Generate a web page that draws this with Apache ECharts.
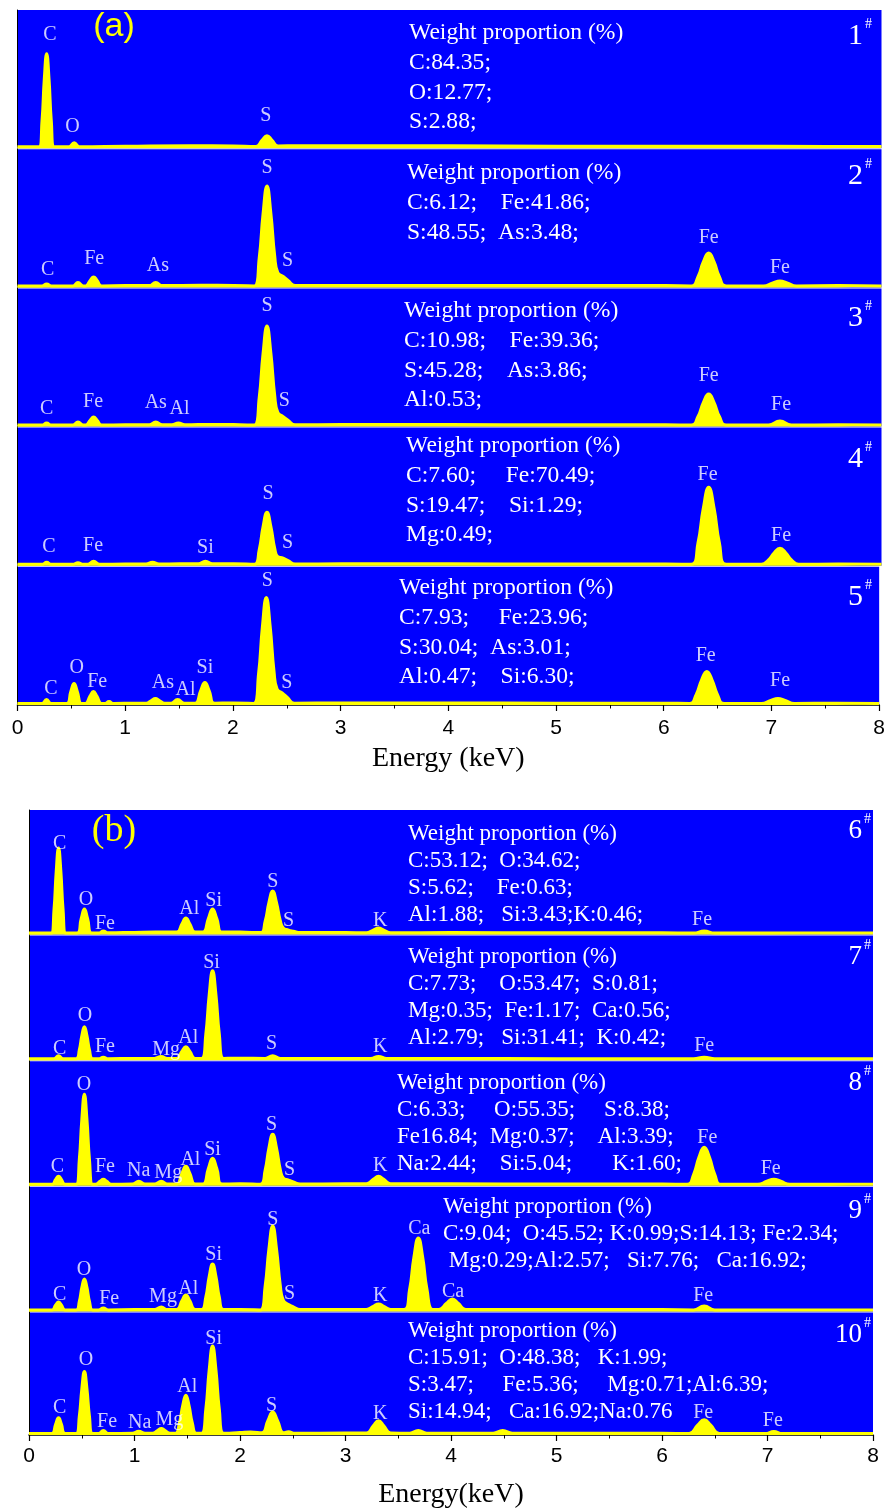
<!DOCTYPE html>
<html><head><meta charset="utf-8">
<script src="https://cdn.jsdelivr.net/npm/echarts@6/dist/echarts.min.js"></script>
<style>html,body{margin:0;padding:0;background:#fff}#c{width:888px;height:1510px}</style>
</head><body><div id="c"></div>
<script>
// ---------- data: EDS spectra, [energy keV, intensity a.u.] ----------
const energyTicks = [0,1,2,3,4,5,6,7,8];
const spec1 = [[0,1.5],[0.12,1.5],[0.2,1.5],[0.227,27.4],[0.248,69],[0.27,94.5],[0.292,69],[0.313,27.4],[0.34,1.5],[0.477,1.5],[0.525,5.5],[0.573,1.5],[1.0,2],[1.6,2.5],[2.0,2.3],[2.207,1.8],[2.265,8.2],[2.31,12.5],[2.355,8.2],[2.413,2.2],[2.6,2.5],[3.5,2.5],[4.5,2.2],[5.5,2],[6.5,2],[7.5,1.8],[8,1.8]];
const spec2 = [[0,1.5],[0.15,1.5],[0.227,1.5],[0.27,3.5],[0.313,1.5],[0.512,1.5],[0.56,5],[0.608,1.5],[0.631,1.5],[0.673,7],[0.705,10.5],[0.737,7],[0.779,1.5],[1.0,1.8],[1.22,1.8],[1.28,5],[1.34,1.8],[1.7,2.2],[2.0,2],[2.193,1.5],[2.238,29.3],[2.274,74.1],[2.31,101.5],[2.346,74.1],[2.382,31],[2.41,14.9],[2.46,10.9],[2.505,6.9],[2.57,1.8],[3.0,2],[4.0,2],[5.0,1.8],[6.0,1.8],[6.239,1.5],[6.301,10.7],[6.35,25.5],[6.4,34.5],[6.45,25.5],[6.499,10.7],[6.561,1.5],[6.908,1.5],[6.994,4.5],[7.06,6.5],[7.126,4.5],[7.212,1.5],[7.6,1.8],[8,1.5]];
const spec3 = [[0,1.5],[0.15,1.5],[0.227,1.5],[0.27,3.5],[0.313,1.5],[0.512,1.5],[0.56,4.5],[0.608,1.5],[0.631,1.5],[0.673,6.4],[0.705,9.5],[0.737,6.4],[0.779,1.5],[1.0,1.8],[1.22,1.8],[1.28,4.5],[1.34,1.8],[1.43,1.8],[1.49,3.5],[1.55,1.8],[1.8,2.2],[2.0,2],[2.193,1.5],[2.238,29],[2.274,73.4],[2.31,100.5],[2.346,73.4],[2.382,30.8],[2.41,14.2],[2.46,9.9],[2.505,6.4],[2.57,1.8],[3.0,2],[4.0,2],[5.0,1.8],[6.0,1.8],[6.239,1.5],[6.301,10.1],[6.35,24],[6.4,32.5],[6.45,24],[6.499,10.1],[6.561,1.5],[6.955,1.5],[7.06,5.5],[7.165,1.5],[7.6,1.8],[8,1.5]];
const spec4 = [[0,1.5],[0.15,1.5],[0.227,1.5],[0.27,3.5],[0.313,1.5],[0.512,1.5],[0.56,3],[0.608,1.5],[0.65,1.5],[0.705,4.5],[0.76,1.5],[1.0,1.8],[1.19,1.8],[1.25,3.5],[1.31,1.8],[1.5,2],[1.675,2],[1.74,4.5],[1.805,2],[2.0,2],[2.193,1.5],[2.238,16],[2.274,39.3],[2.31,53.5],[2.346,39.3],[2.382,17.3],[2.41,9.1],[2.46,7.7],[2.505,5.1],[2.57,1.8],[3.0,2],[4.0,2],[5.0,1.8],[6.0,1.8],[6.239,1.5],[6.301,22.9],[6.35,57.4],[6.4,78.5],[6.45,57.4],[6.499,22.9],[6.561,1.5],[6.888,1.5],[6.954,5.9],[7.007,13.1],[7.06,17.5],[7.113,13.1],[7.166,5.9],[7.232,1.5],[7.6,1.8],[8,1.5]];
const spec5 = [[0,1.5],[0.15,1.5],[0.227,1.5],[0.27,5.5],[0.313,1.5],[0.456,1.5],[0.495,13.6],[0.525,21.5],[0.555,13.6],[0.594,1.5],[0.631,1.5],[0.673,8.8],[0.705,13.5],[0.737,8.8],[0.779,1.5],[0.81,1.5],[0.85,3.5],[0.89,1.5],[1.1,1.8],[1.195,1.8],[1.243,4.5],[1.28,6.5],[1.317,4.5],[1.365,1.8],[1.427,1.8],[1.487,5.5],[1.547,1.8],[1.648,1.8],[1.70,14.2],[1.74,22.5],[1.78,14.2],[1.832,1.8],[2.0,2],[2.193,1.5],[2.238,31],[2.274,78.5],[2.31,107.5],[2.346,78.5],[2.382,33.2],[2.41,15.9],[2.46,11.9],[2.505,7.6],[2.57,1.8],[3.0,2],[4.0,2],[5.0,1.8],[6.0,1.8],[6.239,1.5],[6.301,10.4],[6.35,24.7],[6.4,33.5],[6.45,24.7],[6.499,10.4],[6.561,1.5],[6.908,1.5],[6.994,4.5],[7.06,6.5],[7.126,4.5],[7.212,1.5],[7.6,1.8],[8,1.5]];
const spec6 = [[0,1.5],[0.15,1.5],[0.21,1.5],[0.237,25.1],[0.258,63.2],[0.28,86.5],[0.302,63.2],[0.323,25.1],[0.35,1.5],[0.456,1.5],[0.495,16.1],[0.525,25.5],[0.555,16.1],[0.594,1.5],[0.66,1.5],[0.705,3.5],[0.75,1.8],[1.0,2.2],[1.2,2.5],[1.40,2.5],[1.449,10.6],[1.487,16.5],[1.525,10.6],[1.574,2.5],[1.648,2.5],[1.70,16.1],[1.74,25.5],[1.78,16.1],[1.832,2.5],[2.0,2.5],[2.193,2],[2.238,13.2],[2.274,32],[2.31,43.5],[2.346,32],[2.382,13.9],[2.41,6.7],[2.46,4.5],[2.505,3.3],[2.57,2],[3.0,2],[3.198,1.8],[3.263,4.5],[3.313,6.5],[3.363,4.5],[3.428,1.8],[4.0,2],[5.0,1.8],[6.0,1.8],[6.3,1.5],[6.4,3.5],[6.5,1.5],[7.0,1.5],[8,1.5]];
const spec7 = [[0,1.5],[0.15,1.5],[0.237,1.5],[0.28,4.5],[0.323,1.5],[0.447,1.5],[0.477,10.4],[0.501,24.7],[0.525,33.5],[0.549,24.7],[0.573,10.4],[0.603,1.5],[0.66,1.5],[0.705,3],[0.75,1.5],[1.0,1.8],[1.19,1.8],[1.254,3.8],[1.31,1.8],[1.40,1.8],[1.449,8.8],[1.487,13.5],[1.525,8.8],[1.574,1.8],[1.636,1.8],[1.676,26],[1.708,65.4],[1.74,89.5],[1.772,65.4],[1.804,26],[1.844,1.8],[2.0,2],[2.24,1.8],[2.31,4.5],[2.38,1.8],[3.0,1.8],[3.24,1.8],[3.313,3.8],[3.39,1.8],[4.0,1.8],[5.0,1.5],[6.3,1.5],[6.4,3],[6.5,1.5],[8,1.5]];
const spec8 = [[0,1.5],[0.15,1.5],[0.218,1.5],[0.253,6.4],[0.28,9.5],[0.307,6.4],[0.342,1.5],[0.447,1.5],[0.477,26.5],[0.501,66.8],[0.525,91.5],[0.549,66.8],[0.573,26.5],[0.603,1.5],[0.631,1.5],[0.673,4.5],[0.705,6.5],[0.737,4.5],[0.779,1.5],[0.98,1.8],[1.041,4.5],[1.10,1.8],[1.19,1.8],[1.254,4.5],[1.31,1.8],[1.40,1.8],[1.449,12.4],[1.487,19.5],[1.525,12.4],[1.574,1.8],[1.648,1.8],[1.70,17.3],[1.74,27.5],[1.78,17.3],[1.832,1.8],[2.0,2],[2.193,1.5],[2.238,15.4],[2.274,37.8],[2.31,51.5],[2.346,37.8],[2.382,16.3],[2.41,8],[2.46,5.7],[2.505,3.9],[2.57,1.8],[3.0,2],[3.198,2],[3.263,6.4],[3.313,9.5],[3.363,6.4],[3.428,2],[4.0,2],[5.0,1.8],[6.0,1.8],[6.239,1.5],[6.301,11.8],[6.35,28.4],[6.4,38.5],[6.45,28.4],[6.499,11.8],[6.561,1.5],[6.908,1.5],[6.994,4.5],[7.06,6.5],[7.126,4.5],[7.212,1.5],[7.6,1.5],[8,1.5]];
const spec9 = [[0,1.5],[0.15,1.5],[0.218,1.5],[0.253,6.4],[0.28,9.5],[0.307,6.4],[0.342,1.5],[0.447,1.5],[0.477,10.1],[0.501,24],[0.525,32.5],[0.549,24],[0.573,10.1],[0.603,1.5],[0.66,1.5],[0.705,3.5],[0.75,1.5],[1.0,1.8],[1.19,1.8],[1.254,4.5],[1.31,1.8],[1.40,1.8],[1.449,10.6],[1.487,16.5],[1.525,10.6],[1.574,1.8],[1.636,1.8],[1.676,14.3],[1.708,34.9],[1.74,47.5],[1.772,34.9],[1.804,14.3],[1.844,1.8],[2.0,2],[2.193,1.5],[2.238,24.9],[2.274,62.5],[2.31,85.5],[2.346,62.5],[2.382,26],[2.41,11.3],[2.46,6.8],[2.505,4.5],[2.57,1.8],[3.0,2],[3.198,2],[3.263,5.1],[3.313,7.5],[3.363,5.1],[3.428,2],[3.555,2],[3.607,21.5],[3.648,53.8],[3.69,73.5],[3.732,53.8],[3.773,21.5],[3.825,2],[3.886,2],[3.958,8.2],[4.013,12.5],[4.068,8.2],[4.14,2],[5.0,1.8],[6.0,1.8],[6.3,1.5],[6.4,5.5],[6.5,1.5],[8,1.5]];
const spec10 = [[0,1.5],[0.15,1.5],[0.218,1.5],[0.253,11.2],[0.28,17.5],[0.307,11.2],[0.342,1.5],[0.447,1.5],[0.477,19],[0.501,47.2],[0.525,64.5],[0.549,47.2],[0.573,19],[0.603,1.5],[0.66,1.5],[0.705,4.5],[0.75,1.5],[0.98,1.8],[1.041,3.8],[1.10,1.8],[1.171,1.8],[1.218,4.5],[1.254,6.5],[1.29,4.5],[1.337,1.8],[1.388,1.8],[1.426,12.3],[1.457,29.8],[1.487,40.5],[1.517,29.8],[1.548,12.3],[1.586,1.8],[1.636,1.8],[1.676,26.2],[1.708,66.1],[1.74,90.5],[1.772,66.1],[1.804,26.2],[1.844,1.8],[2.0,2.5],[2.1,3],[2.206,2.2],[2.265,14.9],[2.31,23.5],[2.355,14.9],[2.414,2.2],[2.46,3.2],[2.52,1.8],[3.0,2],[3.198,2],[3.263,9.4],[3.313,14.5],[3.363,9.4],[3.428,2],[3.61,1.8],[3.69,4.5],[3.77,1.8],[4.40,1.8],[4.49,4.5],[4.58,1.8],[5.0,1.8],[6.0,1.8],[6.257,1.5],[6.338,10],[6.4,15.5],[6.462,10],[6.543,1.5],[6.98,1.5],[7.06,3.5],[7.14,1.5],[8,1.5]];

// peak labels: [energy, intensity, element]
const labels1 = [[0.30,113,'C'],[0.51,21,'O'],[2.30,32,'S']];
const labels2 = [[0.28,18,'C'],[0.71,29,'Fe'],[1.30,22,'As'],[2.31,120,'S'],[2.50,27,'S'],[6.40,50,'Fe'],[7.06,20,'Fe']];
const labels3 = [[0.27,18,'C'],[0.70,25,'Fe'],[1.28,24,'As'],[1.50,18,'Al'],[2.31,121,'S'],[2.47,26,'S'],[6.40,51,'Fe'],[7.07,22,'Fe']];
const labels4 = [[0.29,19,'C'],[0.70,20,'Fe'],[1.74,18,'Si'],[2.32,72,'S'],[2.50,23,'S'],[6.39,91,'Fe'],[7.07,30,'Fe']];
const labels5 = [[0.31,16,'C'],[0.55,37,'O'],[0.74,23,'Fe'],[1.35,22,'As'],[1.56,15,'Al'],[1.74,37,'Si'],[2.32,124,'S'],[2.50,22,'S'],[6.39,49,'Fe'],[7.08,24,'Fe']];
const labels6 = [[0.29,91,'C'],[0.54,35,'O'],[0.72,11,'Fe'],[1.52,26,'Al'],[1.75,34,'Si'],[2.31,53,'S'],[2.46,14,'S'],[3.33,14,'K'],[6.38,15,'Fe']];
const labels7 = [[0.29,11,'C'],[0.53,44,'O'],[0.72,13,'Fe'],[1.30,10,'Mg'],[1.51,22,'Al'],[1.73,97,'Si'],[2.30,16,'S'],[3.33,13,'K'],[6.40,14,'Fe']];
const labels8 = [[0.27,19,'C'],[0.52,101,'O'],[0.72,19,'Fe'],[1.04,15,'Na'],[1.32,13,'Mg'],[1.53,26,'Al'],[1.74,36,'Si'],[2.30,61,'S'],[2.47,16,'S'],[3.33,20,'K'],[6.43,48,'Fe'],[7.03,17,'Fe']];
const labels9 = [[0.29,17,'C'],[0.52,42,'O'],[0.76,13,'Fe'],[1.27,15,'Mg'],[1.51,23,'Al'],[1.75,57,'Si'],[2.31,92,'S'],[2.47,18,'S'],[3.33,16,'K'],[3.70,83,'Ca'],[4.02,20,'Ca'],[6.39,16,'Fe']];
const labels10 = [[0.29,28,'C'],[0.54,76,'O'],[0.74,13,'Fe'],[1.05,12,'Na'],[1.33,15,'Mg'],[1.50,49,'Al'],[1.75,98,'Si'],[2.30,30,'S'],[3.33,22,'K'],[6.39,23,'Fe'],[7.05,14,'Fe']];

// composition texts
const text1 = ['Weight proportion (%)','C:84.35;','O:12.77;','S:2.88;'];
const text2 = ['Weight proportion (%)','C:6.12;    Fe:41.86;','S:48.55;  As:3.48;'];
const text3 = ['Weight proportion (%)','C:10.98;    Fe:39.36;','S:45.28;    As:3.86;','Al:0.53;'];
const text4 = ['Weight proportion (%)','C:7.60;     Fe:70.49;','S:19.47;    Si:1.29;','Mg:0.49;'];
const text5 = ['Weight proportion (%)','C:7.93;     Fe:23.96;','S:30.04;  As:3.01;','Al:0.47;    Si:6.30;'];
const text6 = ['Weight proportion (%)','C:53.12;  O:34.62;','S:5.62;    Fe:0.63;','Al:1.88;   Si:3.43;K:0.46;'];
const text7 = ['Weight proportion (%)','C:7.73;    O:53.47;  S:0.81;','Mg:0.35;  Fe:1.17;  Ca:0.56;','Al:2.79;   Si:31.41;  K:0.42;'];
const text8 = ['Weight proportion (%)','C:6.33;     O:55.35;     S:8.38;','Fe16.84;  Mg:0.37;    Al:3.39;','Na:2.44;    Si:5.04;       K:1.60;'];
const text9 = ['Weight proportion (%)','C:9.04;  O:45.52; K:0.99;S:14.13; Fe:2.34;',' Mg:0.29;Al:2.57;   Si:7.76;   Ca:16.92;'];
const text10 = ['Weight proportion (%)','C:15.91;  O:48.38;   K:1.99;','S:3.47;     Fe:5.36;     Mg:0.71;Al:6.39;','Si:14.94;   Ca:16.92;Na:0.76'];
const sampleIds = ['1','2','3','4','5','6','7','8','9','10'];
const panelTags = ['(a)','(b)'];
const axisTitles = ['Energy (keV)','Energy(keV)'];

// ---------- layout ----------
const spectra = [spec1,spec2,spec3,spec4,spec5,spec6,spec7,spec8,spec9,spec10];
const peakLabels = [labels1,labels2,labels3,labels4,labels5,labels6,labels7,labels8,labels9,labels10];
const texts = [text1,text2,text3,text4,text5,text6,text7,text8,text9,text10];
const GA = {left:17.5, width:864, top:10, step:139.2, h:138.2, font:23.6, lh:29.7, numFont:30, tickMargin:13, nameGap:40};
const GB = {left:29, width:844, top:810, step:125.6, h:124.6, font:23, lh:27.1, numFont:27, tickMargin:11, nameGap:46};
const textPos = [[409,33],[407,173],[404,311],[406,446],[399,588],[408,834],[408,957],[397,1083],[443,1207],[408,1331]];
const numPos = [[863,36],[863,176],[863,318],[863,459],[863,597],[862,831],[862,957],[862,1083],[862,1211],[862,1335]];
const SERIF = 'Liberation Serif';
const SANS = 'Liberation Sans';

const grids=[], xAxes=[], yAxes=[], series=[], graphics=[];
for (let i=0;i<10;i++){
  const G = i<5?GA:GB, k=i%5, last=k===4;
  const top = G.top + k*G.step;
  grids.push({left:G.left, top:top, width:G.width, height:G.h, show:true, backgroundColor:'#0000ff', borderWidth:0});
  xAxes.push({gridIndex:i, type:'value', min:energyTicks[0], max:energyTicks[energyTicks.length-1], interval:1,
    splitLine:{show:false},
    axisLine:{show:last, onZero:false, lineStyle:{color:'#000', width:1.5}},
    axisTick:{show:last, length:6, lineStyle:{color:'#000', width:1.2}},
    minorTick:{show:last, splitNumber:2, length:3.5, lineStyle:{color:'#000', width:1}},
    axisLabel:{show:last, color:'#000', fontFamily:SANS, fontSize:21, margin:G.tickMargin},
    name: last ? axisTitles[i<5?0:1] : '', nameLocation:'middle', nameGap:G.nameGap,
    nameTextStyle:{color:'#000', fontFamily:SERIF, fontSize:28}});
  yAxes.push({gridIndex:i, type:'value', min:0, max:G.h, splitLine:{show:false},
    axisLabel:{show:false}, axisTick:{show:false},
    axisLine:{show:true, onZero:false, lineStyle:{color:'#000', width:1}}});
  series.push({type:'line', xAxisIndex:i, yAxisIndex:i, data:spectra[i], symbol:'none', smooth:0.5,
    lineStyle:{color:'#ffff00', width:3}, areaStyle:{color:'#ffff00', opacity:1}, z:2, silent:true});
  series.push({type:'scatter', xAxisIndex:i, yAxisIndex:i, symbolSize:1, itemStyle:{color:'rgba(0,0,0,0)'},
    data: peakLabels[i].map(l=>({value:[l[0],l[1]], name:l[2]})),
    label:{show:true, position:'inside', formatter:'{b}', color:'#fff', fontFamily:SERIF, fontSize:20}, z:5, silent:true});
  texts[i].forEach((t,j)=>{
    graphics.push({type:'text', z:100, x:textPos[i][0], y:textPos[i][1]+j*G.lh,
      style:{text:t, fill:'#fff', font:G.font+'px "'+SERIF+'"', textAlign:'left', textVerticalAlign:'middle'}});
  });
  graphics.push({type:'text', z:100, x:numPos[i][0], y:numPos[i][1],
    style:{text:sampleIds[i], fill:'#fff', font:G.numFont+'px "'+SERIF+'"', textAlign:'right', textVerticalAlign:'middle'}});
  graphics.push({type:'text', z:100, x:numPos[i][0]+2, y:numPos[i][1]-12,
    style:{text:'#', fill:'#fff', font:'14px "'+SERIF+'"', textAlign:'left', textVerticalAlign:'middle'}});
}
graphics.push({type:'text', z:100, x:114, y:27, style:{text:panelTags[0], fill:'#ffff00', font:'34px "'+SANS+'"', textAlign:'center', textVerticalAlign:'middle'}});
graphics.push({type:'text', z:100, x:114, y:831, style:{text:panelTags[1], fill:'#ffff00', font:'38px "'+SERIF+'"', textAlign:'center', textVerticalAlign:'middle'}});

const chart = echarts.init(document.getElementById('c'), null, {renderer:'canvas'});
chart.setOption({animation:false, backgroundColor:'#fff', grid:grids, xAxis:xAxes, yAxis:yAxes, series:series, graphic:graphics});
</script></body></html>
